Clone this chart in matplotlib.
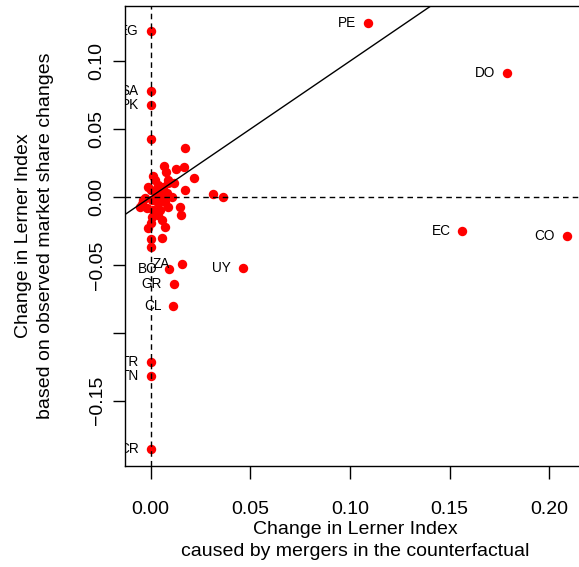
import matplotlib
matplotlib.use('Agg')
import matplotlib.pyplot as plt

plt.rcParams['font.family'] = ['Liberation Sans', 'DejaVu Sans']

# labelled countries
names = ['EG', 'SA', 'PK', 'PE', 'DO', 'EC', 'CO', 'UY', 'ZA', 'BO',
         'GR', 'CL', 'TR', 'TN', 'CR']
lab_x = [0.0, 0.0, 0.0, 0.1092, 0.1788, 0.1565, 0.2089, 0.0462, 0.0156, 0.0093,
         0.0117, 0.0114, 0.0002, 0.0, 0.0]
lab_y = [0.1222, 0.0778, 0.0680, 0.1279, 0.0913, -0.0253, -0.0289, -0.0525, -0.0496, -0.0533,
         -0.0638, -0.0803, -0.1217, -0.1320, -0.1856]

# unlabelled countries (the cluster near the origin)
other_x = [0.0, 0.0172, 0.0067, 0.0077, 0.0125, 0.0165, 0.0217, 0.0013, 0.0117, 0.0172,
           0.0311, 0.0364, -0.0012, 0.0147, 0.0152, -0.0037, -0.0054, 0.0055, 0.0072, -0.0012,
           0.0002, 0.0055, 0.0002, 0.0038, 0.0063, 0.0022, 0.0055, 0.0080, -0.0029, 0.0005,
           0.0038, 0.0072, 0.0088, -0.0020, 0.0013, 0.0047, 0.0005, 0.0038, 0.0, 0.0105,
           0.0088, 0.0022, 0.0, 0.0030, -0.0045, 0.0060, 0.0088]
other_y = [0.0425, 0.0359, 0.0230, 0.0186, 0.0206, 0.0221, 0.0142, 0.0157, 0.0101, 0.0052,
           0.0020, 0.0002, 0.0071, -0.0071, -0.0133, -0.0022, -0.0076, -0.0169, -0.0219, -0.0231,
           -0.0312, -0.0304, -0.0370, 0.0088, 0.0076, 0.0039, 0.0027, 0.0027, -0.0010, -0.0022,
           -0.0046, -0.0035, -0.0071, -0.0083, -0.0096, -0.0096, -0.0145, -0.0133, -0.0194, 0.0002,
           0.0125, 0.0125, 0.0050, 0.0000, -0.0050, -0.0010, 0.0101]

x_ticks = [0.0, 0.05, 0.10, 0.15, 0.20]
y_ticks = [0.10, 0.05, 0.0, -0.05, -0.10, -0.15]
y_tick_labels = ['0.10', '0.05', '0.00', '\u22120.05', '', '\u22120.15']

W, H = 579, 567
fig = plt.figure(figsize=(W / 100, H / 100), dpi=100)
ax = fig.add_axes([125 / W, 1 - 466 / H, (585 - 125) / W, (466 - 6) / H])

ax.scatter(other_x + lab_x, other_y + lab_y, s=46, color='#ff0000', linewidths=0, zorder=2)

for n, x, y in zip(names, lab_x, lab_y):
    ax.annotate(n, (x, y), xytext=(-8.5, 0), textcoords='offset points',
                ha='right', va='center', fontsize=9.8, clip_on=True, annotation_clip=False)

ax.axvline(0, color='black', lw=1, dashes=(4, 3), zorder=3)
ax.axhline(0, color='black', lw=1, dashes=(4, 3), zorder=3)
ax.axline((0, 0), slope=1, color='black', lw=1, zorder=3)

ax.set_xlim(-0.0129, 0.218)
ax.set_ylim(-0.198, 0.1406)

ax.set_xticks(x_ticks)
ax.set_xticklabels(['{:.2f}'.format(v) for v in x_ticks])
ax.set_yticks(y_ticks)
ax.set_yticklabels(y_tick_labels, rotation=90, va='center')
ax.tick_params(direction='out', length=9, width=1, labelsize=14)
ax.tick_params(axis='x', pad=16.5)
ax.tick_params(axis='y', pad=5)

ax.set_xlabel('Change in Lerner Index\ncaused by mergers in the counterfactual',
              fontsize=14, linespacing=1.39, labelpad=2)
ax.set_ylabel('Change in Lerner Index\nbased on observed market share changes',
              fontsize=14, linespacing=1.39, labelpad=25)

for s in ax.spines.values():
    s.set_linewidth(1)

fig.savefig('out.png', dpi=100)
